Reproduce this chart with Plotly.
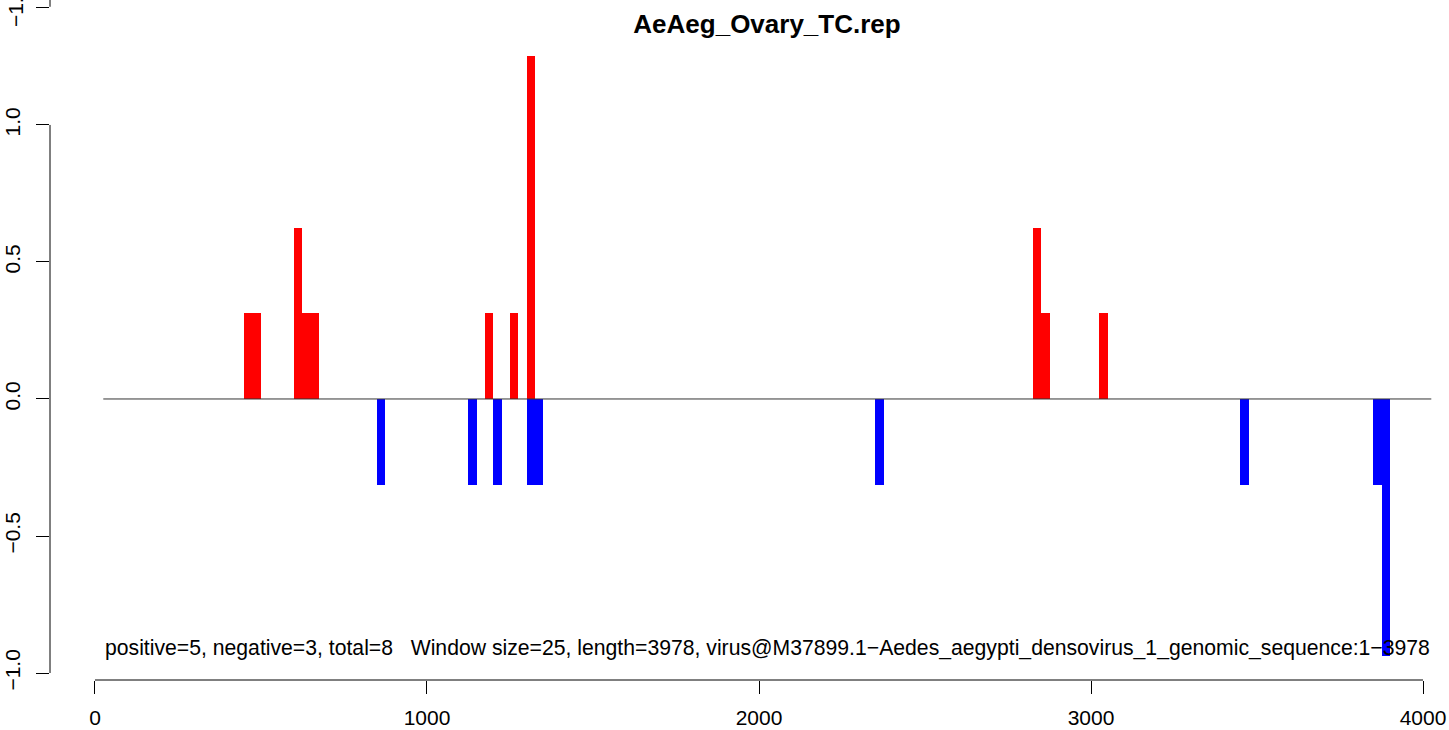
import plotly.graph_objects as go

# ---- data ----
window = 25
pos_bins = [450, 475, 600, 625, 650, 1175, 1250, 1300, 2825, 2850, 3025]
pos_vals = [0.3125, 0.3125, 0.625, 0.3125, 0.3125, 0.3125, 0.3125, 1.25, 0.625, 0.3125, 0.3125]
neg_bins = [850, 1125, 1200, 1300, 1325, 2350, 3450, 3850, 3875]
neg_vals = [-0.3125, -0.3125, -0.3125, -0.3125, -0.3125, -0.3125, -0.3125, -0.3125, -0.9375]
baseline_x = [25, 4025]
baseline_y = [0, 0]
x_ticks = [0, 1000, 2000, 3000, 4000]
y_ticks = [-1.0, -0.5, 0.0, 0.5, 1.0, 1.43]
y_ticktext = ["\u22121.0", "\u22120.5", "0.0", "0.5", "1.0", ""]
top_fragment_label = "\u22121.0"
title_text = "AeAeg_Ovary_TC.rep"
info_text = ("positive=5, negative=3, total=8   Window size=25, length=3978, "
             "virus@M37899.1\u2212Aedes_aegypti_densovirus_1_genomic_sequence:1\u22123978")
info_pos = (25, -0.909)

FONT = "Liberation Sans, Arial, Helvetica, sans-serif"

fig = go.Figure()
fig.add_trace(go.Bar(x=[b + window / 2 for b in pos_bins], y=pos_vals, width=window,
                     marker=dict(color="#FF0000", line=dict(width=0)), showlegend=False))
fig.add_trace(go.Bar(x=[b + window / 2 for b in neg_bins], y=neg_vals, width=window,
                     marker=dict(color="#0000FF", line=dict(width=0)), showlegend=False))
fig.add_trace(go.Scatter(x=baseline_x, y=baseline_y, mode="lines",
                         line=dict(color="#333333", width=1), showlegend=False,
                         hoverinfo="skip"))

fig.add_annotation(x=info_pos[0], y=info_pos[1], text=info_text, showarrow=False,
                   xanchor="left", yanchor="middle",
                   font=dict(family=FONT, size=21.2, color="black"))

# partial label of the panel above (cut at the top edge)
fig.add_annotation(xref="paper", yref="y", x=-35 / 1399, y=y_ticks[-1], text=top_fragment_label,
                   showarrow=False, textangle=-90, xanchor="center", yanchor="middle",
                   font=dict(family=FONT, size=21, color="black"))

# axis lines like R's axis(): only from first to last tick
fig.add_shape(type="line", xref="x", yref="paper", x0=x_ticks[0], x1=x_ticks[-1], y0=0, y1=0,
              line=dict(color="black", width=1))
fig.add_shape(type="line", xref="paper", yref="y", x0=0, x1=0, y0=y_ticks[0], y1=y_ticks[4],
              line=dict(color="black", width=1))
fig.add_shape(type="line", xref="paper", yref="paper", x0=0, x1=0, y0=0.99, y1=1.0,
              line=dict(color="black", width=1))

fig.update_layout(
    width=1449, height=730,
    margin=dict(l=50, r=0, t=0, b=50),
    paper_bgcolor="white", plot_bgcolor="white",
    barmode="overlay", bargap=0,
    font=dict(family=FONT, color="black"),
    title=dict(text="<b>" + title_text + "</b>", x=767 / 1449, xanchor="center",
               y=1 - 24 / 730, yanchor="middle", font=dict(family=FONT, size=26, color="black")),
    xaxis=dict(range=[-135.5, 4078.3], tickvals=x_ticks, ticktext=[str(t) for t in x_ticks],
               showgrid=False, zeroline=False, showline=False,
               ticks="outside", ticklen=13, tickcolor="black", tickwidth=1,
               tickfont=dict(family=FONT, size=21, color="black"), ticklabelstandoff=6),
    yaxis=dict(range=[-1.0255, 1.456], tickvals=y_ticks, ticktext=y_ticktext,
               showgrid=False, zeroline=False, showline=False,
               ticks="outside", ticklen=13, tickcolor="black", tickwidth=1, tickangle=-90,
               tickfont=dict(family=FONT, size=21, color="black"), ticklabelstandoff=8),
)

fig.write_html("out.html", config={"displayModeBar": False},
               post_script="document.body.style.margin='0px';document.body.style.overflow='hidden';")
